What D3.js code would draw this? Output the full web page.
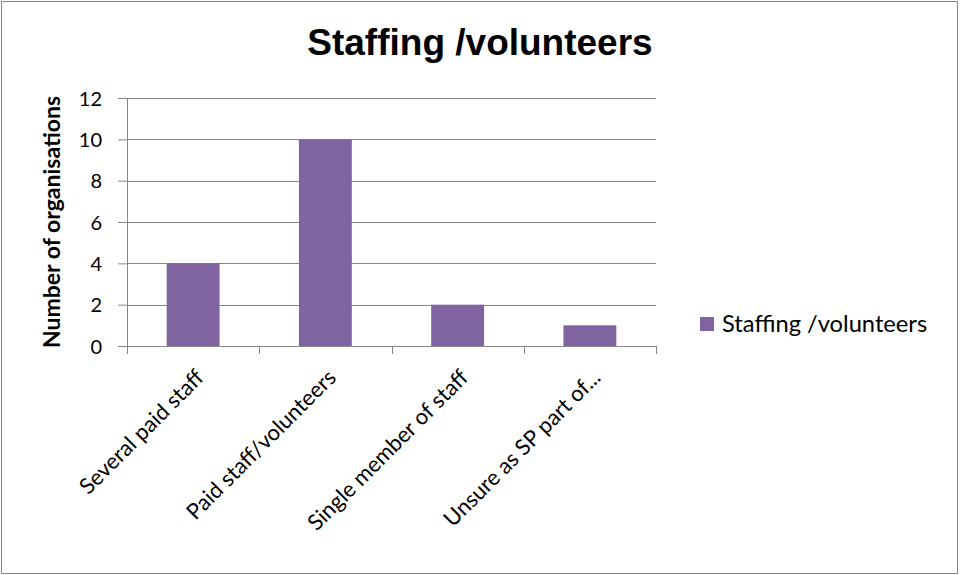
<!DOCTYPE html>
<html>
<head>
<meta charset="utf-8">
<script src="https://cdn.jsdelivr.net/npm/d3@7"></script>
<style>
  body { margin: 0; background: #fff; }
  text { font-family: Lato, "Open Sans", sans-serif; fill: #000; }
</style>
</head>
<body>
<svg id="chart" width="960" height="575"></svg>
<script>
// chart data
var categories = ["Several paid staff", "Paid staff/volunteers", "Single member of staff", "Unsure as SP part of..."];
var values = [4, 10, 2, 1];
var yTicks = [0, 2, 4, 6, 8, 10, 12];
var seriesName = "Staffing /volunteers";
var chartTitle = "Staffing /volunteers";
var yTitle = "Number of organisations";

var svg = d3.select("#chart"),
    margin = {top: 98, right: 304, bottom: 229, left: 127},
    width = +svg.attr("width") - margin.left - margin.right,
    height = +svg.attr("height") - margin.top - margin.bottom;

// outer border
svg.append("rect")
    .attr("x", 1.5).attr("y", 1.5)
    .attr("width", 956).attr("height", 572)
    .attr("fill", "none")
    .attr("stroke", "#868686");

var g = svg.append("g").attr("transform", "translate(" + margin.left + "," + margin.top + ")");

var x = d3.scaleBand()
    .domain(categories)
    .range([0, width])
    .paddingInner(0.6)
    .paddingOuter(0.3);

var y = d3.scaleLinear()
    .domain([0, 12])
    .range([height, 0]);

// gridlines
g.selectAll(".grid")
    .data(yTicks.filter(function(d) { return d > 0; }))
    .enter().append("line")
    .attr("x1", 0).attr("x2", width)
    .attr("y1", function(d) { return Math.round(y(d)) + 0.5; })
    .attr("y2", function(d) { return Math.round(y(d)) + 0.5; })
    .attr("stroke", "#868686")
    .attr("stroke-width", 1);

// bars
g.selectAll(".bar")
    .data(values)
    .enter().append("rect")
    .attr("class", "bar")
    .attr("x", function(d, i) { return x(categories[i]); })
    .attr("width", x.bandwidth())
    .attr("y", function(d) { return y(d); })
    .attr("height", function(d) { return height - y(d); })
    .attr("fill", "#8064A2");

// y axis
var yAxis = g.append("g")
    .attr("class", "axis axis--y")
    .call(d3.axisLeft(y).tickValues(yTicks).tickSize(9).tickPadding(16));
yAxis.selectAll("text")
    .style("font-size", "20px")
    .attr("font-family", "Lato, sans-serif")
    .attr("dy", "0.36em");
yAxis.selectAll("line, path").attr("stroke", "#868686");
yAxis.select(".domain").attr("d", "M0.5,0V" + (height + 0.5));

// x axis with ticks between categories
var xAxis = g.append("g")
    .attr("transform", "translate(0," + height + ")");
xAxis.append("line")
    .attr("x1", 0).attr("x2", width)
    .attr("y1", 0.5).attr("y2", 0.5)
    .attr("stroke", "#868686");
xAxis.selectAll(".xtick")
    .data(d3.range(categories.length + 1))
    .enter().append("line")
    .attr("x1", function(d) { return Math.round(d * width / categories.length) + 0.5; })
    .attr("x2", function(d) { return Math.round(d * width / categories.length) + 0.5; })
    .attr("y1", 0).attr("y2", 8)
    .attr("stroke", "#868686");

xAxis.selectAll(".xlabel")
    .data(categories)
    .enter().append("text")
    .attr("text-anchor", "end")
    .style("font-size", "22px")
    .attr("transform", function(d) {
        var cx = x(d) + x.bandwidth() / 2 + 12;
        return "translate(" + cx + ",33) rotate(-45)";
    })
    .text(function(d) { return d; });

// title
svg.append("text")
    .attr("x", 480)
    .attr("y", 55)
    .attr("text-anchor", "middle")
    .style("font-family", "'Liberation Sans', Arial, sans-serif")
    .style("font-weight", "bold")
    .style("font-size", "37px")
    .text(chartTitle);

// y axis title
svg.append("text")
    .attr("transform", "translate(60," + (margin.top + height / 2) + ") rotate(-90)")
    .attr("text-anchor", "middle")
    .style("font-weight", "bold")
    .style("font-size", "23px")
    .text(yTitle);

// legend
var legend = svg.append("g").attr("transform", "translate(700,317)");
legend.append("rect")
    .attr("width", 14).attr("height", 14)
    .attr("fill", "#8064A2");
legend.append("text")
    .attr("x", 22).attr("y", 15)
    .style("font-size", "23.7px")
    .text(seriesName);
</script>
</body>
</html>
